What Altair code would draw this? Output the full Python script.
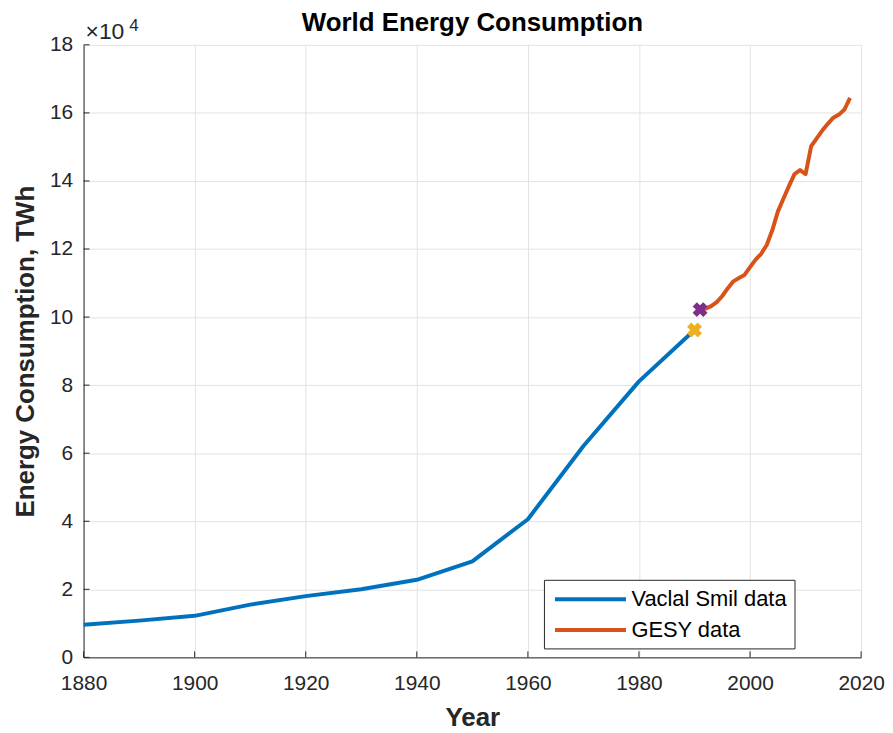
import altair as alt
import pandas as pd

# ---------------- data ----------------
series_names = ["Vaclal Smil data", "GESY data"]
series_colors = ["#0072BD", "#D95319"]

smil_years = [1880, 1890, 1900, 1910, 1920, 1930, 1940, 1950, 1960, 1970, 1980, 1990]
smil_twh = [9600, 10800, 12200, 15500, 18000, 20000, 22800, 28200, 40600, 62100, 81100, 96200]

gesy_years = list(range(1991, 2019))
gesy_twh = [102200, 102500, 103200, 104400, 106200, 108500, 110500, 111500, 112400, 114700,
            116900, 118600, 121200, 125500, 131000, 134800, 138500, 142000, 143200, 142000,
            150200, 152500, 154800, 156800, 158600, 159500, 161000, 164400]

x_ticks = [1880, 1900, 1920, 1940, 1960, 1980, 2000, 2020]
y_ticks = [0, 20000, 40000, 60000, 80000, 100000, 120000, 140000, 160000, 180000]

exp_base = "\u00d710"
exp_power = "4"

# ---------------- layout / style ----------------
W, H = 782, 616
FONT = "Liberation Sans"
AX = "#262626"
GRID = "#e3e3e3"

df_lines = pd.concat([
    pd.DataFrame({"year": smil_years, "twh": smil_twh, "series": series_names[0]}),
    pd.DataFrame({"year": gesy_years, "twh": gesy_twh, "series": series_names[1]}),
])

x_scale = alt.Scale(domain=[x_ticks[0], x_ticks[-1]], nice=False, zero=False)
y_scale = alt.Scale(domain=[y_ticks[0], y_ticks[-1]], nice=False)

x_axis = alt.Axis(values=x_ticks, format="d", title="Year", grid=True, gridColor=GRID,
                  tickSize=0, labelPadding=15, labelFontSize=21, labelFont=FONT,
                  labelColor=AX, labelFlush=False, labelOverlap=False,
                  titleFontSize=26, titleFont=FONT, titleFontWeight="bold", titleColor=AX,
                  titlePadding=12, domainColor=AX, domainWidth=1)
y_axis = alt.Axis(values=y_ticks, labelExpr="datum.value / 10000", title="Energy Consumption, TWh",
                  grid=True, gridColor=GRID, tickSize=0, labelPadding=11, labelFontSize=21,
                  labelFont=FONT, labelColor=AX, labelOverlap=False,
                  titleFontSize=26, titleFont=FONT, titleFontWeight="bold", titleColor=AX,
                  titlePadding=11, domainColor=AX, domainWidth=1)

lines = alt.Chart(df_lines).mark_line(strokeWidth=4, strokeJoin="round").encode(
    x=alt.X("year:Q", scale=x_scale, axis=x_axis),
    y=alt.Y("twh:Q", scale=y_scale, axis=y_axis),
    color=alt.Color("series:N", scale=alt.Scale(domain=series_names, range=series_colors),
                    legend=alt.Legend(title=None, orient="none", legendX=463, legendY=538,
                                      direction="vertical", fillColor="white",
                                      strokeColor=AX, padding=7, labelFontSize=22,
                                      labelFont=FONT, labelColor="black",
                                      symbolType="M-0.8,0H6", symbolSize=441,
                                      symbolStrokeWidth=4, labelOffset=56, rowPadding=7)),
)

m_end = alt.Chart(pd.DataFrame({"year": [smil_years[-1]], "twh": [smil_twh[-1]]})).mark_point(
    shape="cross", angle=45, filled=True, size=230, color="#EDB120", opacity=1
).encode(x="year:Q", y="twh:Q")

m_start = alt.Chart(pd.DataFrame({"year": [gesy_years[0]], "twh": [gesy_twh[0]]})).mark_point(
    shape="cross", angle=45, filled=True, size=230, color="#7E2F8E", opacity=1
).encode(x="year:Q", y="twh:Q")

xt = alt.Chart(pd.DataFrame({"t": x_ticks})).mark_rule(color=AX, strokeWidth=1).encode(
    x="t:Q", y=alt.value(H), y2=alt.value(H - 6))
yt = alt.Chart(pd.DataFrame({"t": y_ticks})).mark_rule(color=AX, strokeWidth=1).encode(
    y="t:Q", x=alt.value(0), x2=alt.value(6))

anchor = pd.DataFrame({"year": [x_ticks[0]], "twh": [y_ticks[-1]]})
e1 = alt.Chart(anchor).mark_text(text=exp_base, align="left", baseline="alphabetic", dx=2, dy=-6,
                                 fontSize=23, font=FONT, color=AX).encode(x="year:Q", y="twh:Q")
e2 = alt.Chart(anchor).mark_text(text=exp_power, align="left", baseline="alphabetic", dx=46, dy=-14,
                                 fontSize=17, font=FONT, color=AX).encode(x="year:Q", y="twh:Q")

chart = alt.layer(lines, xt, yt, m_end, m_start, e1, e2).properties(
    width=W, height=H,
    title=alt.TitleParams("World Energy Consumption", fontSize=26, font=FONT, fontWeight="bold",
                          color="black", anchor="middle", offset=-19),
    autosize=alt.AutoSizeParams(type="none"),
    padding={"left": 76, "top": 35, "right": 24, "bottom": 74},
).configure_view(stroke=None)

chart.save("out.html", embed_options={"renderer": "svg", "actions": False})
